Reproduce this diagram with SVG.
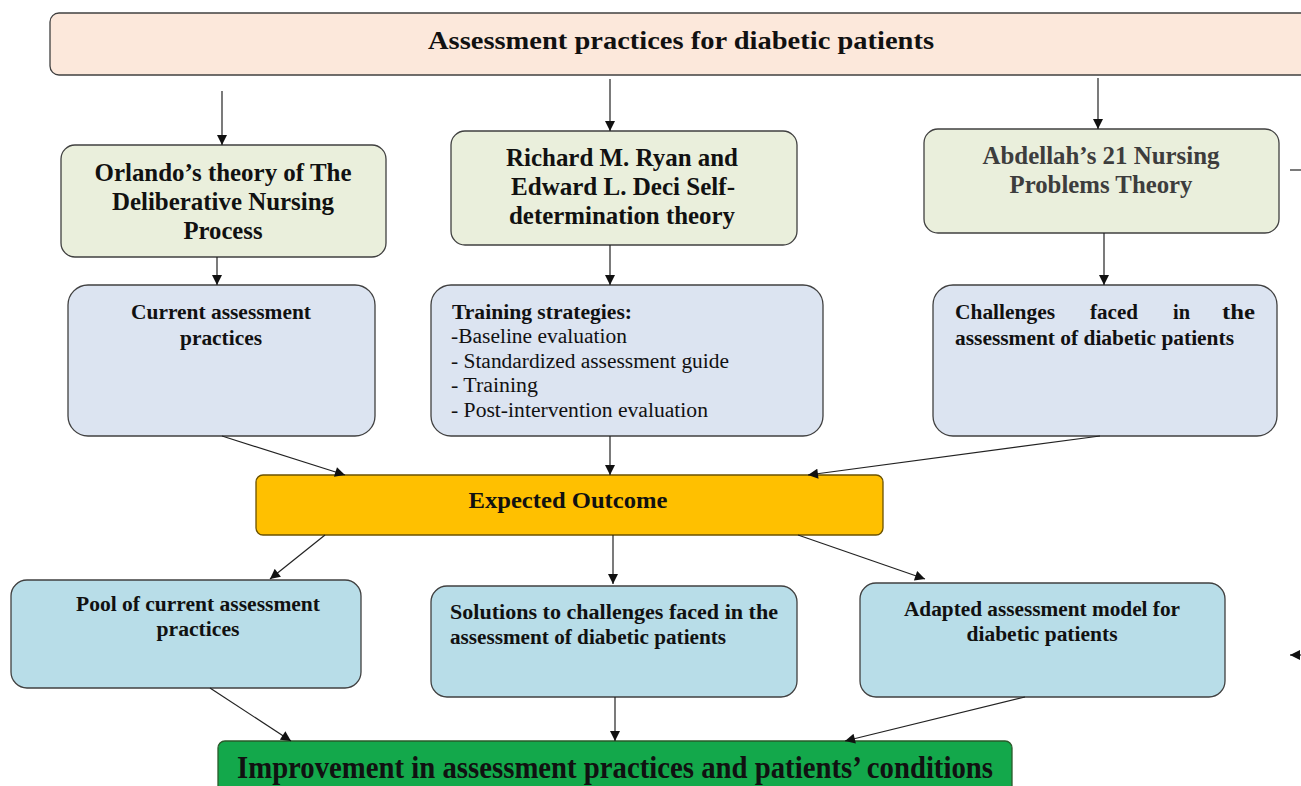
<svg xmlns="http://www.w3.org/2000/svg" width="1301" height="786" viewBox="0 0 1301 786">
  <style>
    .box { stroke: #404040; stroke-width: 1.3; }
    .peach { fill: #FCE8DB; }
    .olive { fill: #EAEFDC; }
    .slate { fill: #DCE4F1; }
    .aqua { fill: #B8DDE8; }
    .gold { fill: #FFC000; stroke: #6b5200; }
    .leaf { fill: #13A84B; stroke: #2a5a2a; }
    text { font-family: "Liberation Serif", "Times New Roman", serif; fill: #111; }
    .b { font-weight: bold; }
    .t1 { font-size: 26px; }
    .t2 { font-size: 24.5px; }
    .t3 { font-size: 20px; }
    .t4 { font-size: 23.5px; }
    .t6 { font-size: 20.5px; }
    .t5 { font-size: 31px; }
    .mid { text-anchor: middle; }
    .conn line { stroke: #222; stroke-width: 1.2; marker-end: url(#arrow); }
  </style>
  <defs>
    <marker id="arrow" viewBox="0 0 10 10" refX="10" refY="5" markerWidth="11" markerHeight="10" markerUnits="userSpaceOnUse" orient="auto">
      <path d="M0,0 L10,5 L0,10 z" fill="#111"/>
    </marker>
  </defs>

  <!-- top banner -->
  <g id="n-assessment">
    <rect class="box peach" x="50" y="13" width="1262" height="62" rx="9"/>
    <text class="b t1 mid" x="681" y="49" textLength="506" lengthAdjust="spacingAndGlyphs">Assessment practices for diabetic patients</text>
  </g>

  <!-- theory boxes -->
  <g id="n-orlando">
    <rect class="box olive" x="61" y="145" width="325" height="112" rx="14"/>
    <text class="b t2 mid" x="223" y="181" textLength="257" lengthAdjust="spacingAndGlyphs">Orlando’s theory of The</text>
    <text class="b t2 mid" x="223" y="210" textLength="222" lengthAdjust="spacingAndGlyphs">Deliberative Nursing</text>
    <text class="b t2 mid" x="223" y="239" textLength="79" lengthAdjust="spacingAndGlyphs">Process</text>
  </g>
  <g id="n-ryan">
    <rect class="box olive" x="451" y="131" width="346" height="114" rx="14"/>
    <text class="b t2 mid" x="622" y="166" textLength="232" lengthAdjust="spacingAndGlyphs">Richard M. Ryan and</text>
    <text class="b t2 mid" x="623" y="195" textLength="224" lengthAdjust="spacingAndGlyphs">Edward L. Deci Self-</text>
    <text class="b t2 mid" x="622" y="224" textLength="226" lengthAdjust="spacingAndGlyphs">determination theory</text>
  </g>
  <g id="n-abdellah">
    <rect class="box olive" x="924" y="129" width="355" height="104" rx="14"/>
    <text class="b t2 mid" x="1101" y="164" textLength="237" lengthAdjust="spacingAndGlyphs" style="fill:#3d3d3d">Abdellah’s 21 Nursing</text>
    <text class="b t2 mid" x="1101" y="193" textLength="183" lengthAdjust="spacingAndGlyphs" style="fill:#3d3d3d">Problems Theory</text>
  </g>

  <!-- focus boxes -->
  <g id="n-current">
    <rect class="box slate" x="68" y="285" width="307" height="151" rx="20"/>
    <text class="b t3 mid" x="221" y="319" textLength="180" lengthAdjust="spacingAndGlyphs">Current assessment</text>
    <text class="b t3 mid" x="221" y="345" textLength="82" lengthAdjust="spacingAndGlyphs">practices</text>
  </g>
  <g id="n-training">
    <rect class="box slate" x="431" y="285" width="392" height="151" rx="20"/>
    <text class="b t3" x="452" y="319" textLength="180" lengthAdjust="spacingAndGlyphs">Training strategies:</text>
    <text class="t3" x="451" y="343" textLength="176" lengthAdjust="spacingAndGlyphs">-Baseline evaluation</text>
    <text class="t3" x="451" y="368" textLength="278" lengthAdjust="spacingAndGlyphs">- Standardized assessment guide</text>
    <text class="t3" x="451" y="392" textLength="87" lengthAdjust="spacingAndGlyphs">- Training</text>
    <text class="t3" x="451" y="417" textLength="257" lengthAdjust="spacingAndGlyphs">- Post-intervention evaluation</text>
  </g>
  <g id="n-challenges">
    <rect class="box slate" x="933" y="285" width="344" height="151" rx="20"/>
    <!-- justified first line: one word per text run -->
    <text class="b t3" x="955" y="319" textLength="100" lengthAdjust="spacingAndGlyphs">Challenges</text>
    <text class="b t3" x="1090" y="319" textLength="48" lengthAdjust="spacingAndGlyphs">faced</text>
    <text class="b t3" x="1173" y="319" textLength="17" lengthAdjust="spacingAndGlyphs">in</text>
    <text class="b t3" x="1222" y="319" textLength="33" lengthAdjust="spacingAndGlyphs">the</text>
    <text class="b t3" x="955" y="345" textLength="279" lengthAdjust="spacingAndGlyphs">assessment of diabetic patients</text>
  </g>

  <!-- outcome -->
  <g id="n-outcome">
    <rect class="box gold" x="256" y="475" width="627" height="60" rx="7"/>
    <text class="b t4 mid" x="568" y="508" textLength="199" lengthAdjust="spacingAndGlyphs">Expected Outcome</text>
  </g>

  <!-- results -->
  <g id="n-pool">
    <rect class="box aqua" x="11" y="580" width="350" height="108" rx="16"/>
    <text class="b t6 mid" x="198" y="611" textLength="244" lengthAdjust="spacingAndGlyphs">Pool of current assessment</text>
    <text class="b t6 mid" x="198" y="636" textLength="83" lengthAdjust="spacingAndGlyphs">practices</text>
  </g>
  <g id="n-solutions">
    <rect class="box aqua" x="431" y="586" width="366" height="111" rx="16"/>
    <text class="b t6" x="450" y="619" textLength="328" lengthAdjust="spacingAndGlyphs">Solutions to challenges faced in the</text>
    <text class="b t6" x="450" y="644" textLength="276" lengthAdjust="spacingAndGlyphs">assessment of diabetic patients</text>
  </g>
  <g id="n-adapted">
    <rect class="box aqua" x="860" y="583" width="365" height="114" rx="16"/>
    <text class="b t6 mid" x="1042" y="616" textLength="276" lengthAdjust="spacingAndGlyphs">Adapted assessment model for</text>
    <text class="b t6 mid" x="1042" y="641" textLength="151" lengthAdjust="spacingAndGlyphs">diabetic patients</text>
  </g>

  <!-- final result -->
  <g id="n-improvement">
    <rect class="box leaf" x="218" y="741" width="794" height="60" rx="7"/>
    <text class="b t5 mid" x="615" y="778" textLength="756" lengthAdjust="spacingAndGlyphs">Improvement in assessment practices and patients’ conditions</text>
  </g>

  <!-- connectors -->
  <g id="connectors" class="conn">
    <line x1="222" y1="91" x2="222" y2="145"/>
    <line x1="610" y1="79" x2="610" y2="131"/>
    <line x1="1098" y1="78" x2="1098" y2="129"/>

    <line x1="217" y1="257" x2="217" y2="285"/>
    <line x1="610" y1="245" x2="610" y2="285"/>
    <line x1="1104" y1="233" x2="1104" y2="285"/>

    <line x1="222" y1="436" x2="345" y2="475"/>
    <line x1="610" y1="436" x2="610" y2="475"/>
    <line x1="1100" y1="436" x2="808" y2="475"/>

    <line x1="325" y1="535" x2="270" y2="579"/>
    <line x1="613" y1="535" x2="613" y2="584"/>
    <line x1="798" y1="535" x2="925" y2="579"/>

    <line x1="210" y1="688" x2="291" y2="741"/>
    <line x1="615" y1="697" x2="615" y2="741"/>
    <line x1="1025" y1="697" x2="845" y2="741"/>

    <!-- side loop leaving the right edge -->
    <line x1="1290" y1="170" x2="1301" y2="170" style="marker-end:none"/>
    <line x1="1305" y1="655" x2="1290" y2="655"/>
  </g>
</svg>
